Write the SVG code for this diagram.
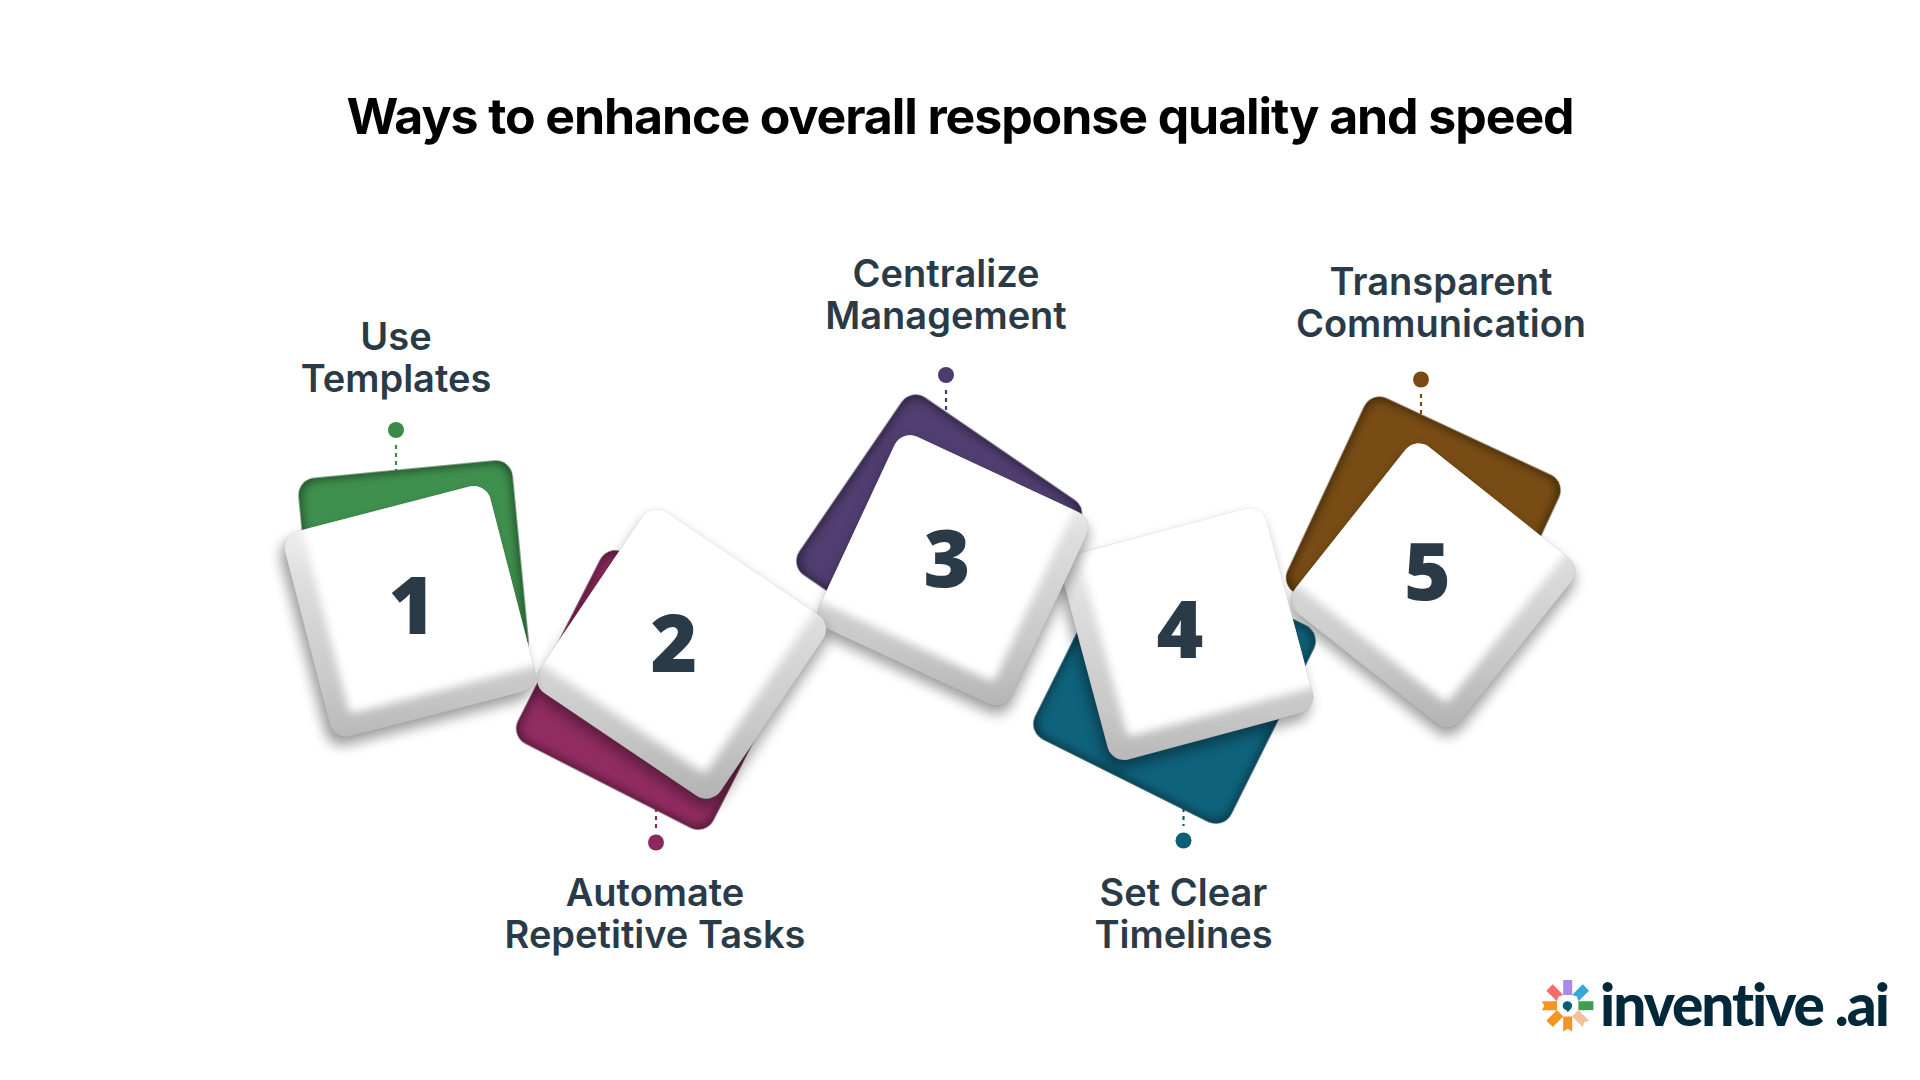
<svg xmlns="http://www.w3.org/2000/svg" width="1920" height="1080" viewBox="0 0 1920 1080">
<style>
.title{font-family:"Inter","Liberation Sans",sans-serif;font-weight:700;font-size:50px;letter-spacing:-1.08px;fill:#000;text-anchor:middle}
.label{font-family:"Inter","Liberation Sans",sans-serif;font-weight:600;font-size:38px;fill:#2a3b47;text-anchor:middle}
.num{font-family:"Open Sans","Liberation Sans",sans-serif;font-weight:800;font-size:80px;fill:#2a3b47;text-anchor:middle}
.logo{font-family:"Lato","Liberation Sans",sans-serif;font-weight:900;font-size:58.500px;letter-spacing:-2px;font-variant-ligatures:none;fill:#02283a}
.dash{stroke-width:2.2;stroke-dasharray:4 4;fill:none}
.edge{fill:none;stroke:#000;stroke-opacity:.07;stroke-width:.8}
</style>
<defs>
<rect id="back" x="-107.500" y="-107.500" width="215" height="215" rx="17"/>
<rect id="backShort" x="-107.500" y="-107.500" width="215" height="200" rx="17"/>
<rect id="s" x="-106" y="-106" width="212" height="212" rx="17"/>
<rect id="faceL" x="-84" y="-150" width="234" height="234" rx="6" fill="#fff"/>
<rect id="faceR" x="-150" y="-150" width="234" height="234" rx="6" fill="#fff"/>
<linearGradient id="bevel" x1="0" y1="0" x2="0" y2="1">
<stop offset=".12" stop-color="#fff"/><stop offset=".4" stop-color="#dedede"/><stop offset=".72" stop-color="#c8c8c8"/><stop offset=".95" stop-color="#b0b0b0"/>
</linearGradient>
<filter id="inner" x="-10%" y="-10%" width="120%" height="120%" color-interpolation-filters="sRGB">
<feFlood flood-color="#000" flood-opacity=".42"/>
<feComposite in2="SourceAlpha" operator="out"/>
<feMorphology operator="dilate" radius="3"/>
<feGaussianBlur stdDeviation="4.500"/>
<feComposite in2="SourceAlpha" operator="in" result="s"/>
<feMerge><feMergeNode in="SourceGraphic"/><feMergeNode in="s"/></feMerge>
</filter>
<filter id="soft" x="-30%" y="-30%" width="160%" height="160%"><feGaussianBlur stdDeviation="6.500"/></filter>
<filter id="face" x="-20%" y="-20%" width="140%" height="140%"><feGaussianBlur stdDeviation="4.500"/></filter>
<clipPath id="c1"><use href="#s" transform="translate(410,611.500) rotate(-14.500)"/></clipPath>
<clipPath id="c2"><use href="#s" transform="translate(681.500,654) rotate(34) scale(1.03)"/></clipPath>
<clipPath id="c3"><use href="#s" transform="translate(953,570.500) rotate(25)"/></clipPath>
<clipPath id="c4"><use href="#s" transform="translate(1187,634) rotate(-15)"/></clipPath>
<clipPath id="c5"><use href="#s" transform="translate(1433,585.500) rotate(38.500)"/></clipPath>
</defs>
<rect width="1920" height="1080" fill="#fff"/>
<text class="title" x="960" y="133.500">Ways to enhance overall response quality and speed</text>

<g id="connectors">
<line class="dash" x1="396" y1="445" x2="396" y2="472" stroke="#3c8a4a"/>
<line class="dash" x1="656" y1="800" x2="656" y2="830" stroke="#8c2a5e"/>
<line class="dash" x1="946" y1="390" x2="946" y2="414" stroke="#4d3c6b"/>
<line class="dash" x1="1183.500" y1="800" x2="1183.500" y2="826" stroke="#0d5f78"/>
<line class="dash" x1="1421" y1="394" x2="1421" y2="420" stroke="#7a4a12"/>
</g>

<g id="node-5">
<circle cx="1421" cy="379.500" r="8" fill="#7a4a12"/>
<use href="#back" transform="translate(1423.300,534) rotate(25)" fill="#784c14" filter="url(#inner)"/>
<use href="#s" transform="translate(1433,593.500) rotate(38.500)" fill="#000" opacity=".38" filter="url(#soft)"/>
<g clip-path="url(#c5)"><rect x="1263" y="415.500" width="340" height="340" fill="url(#bevel)"/><use href="#faceR" transform="translate(1433,585.500) rotate(38.500)" filter="url(#face)"/></g>
<use href="#s" class="edge" transform="translate(1433,585.500) rotate(38.500)"/>
<text class="num" x="1427.500" y="599.500">5</text>
<text class="label" x="1441" y="295">Transparent</text>
<text class="label" x="1441" y="337">Communication</text>
</g>

<g id="node-4">
<circle cx="1183.500" cy="840.500" r="8" fill="#0d5f78"/>
<use href="#back" transform="translate(1174.500,682.500) rotate(26.500) scale(1.02)" fill="#0f627c" filter="url(#inner)"/>
<use href="#s" transform="translate(1184,642) rotate(-15)" fill="#000" opacity=".38" filter="url(#soft)"/>
<g clip-path="url(#c4)"><rect x="1017" y="464" width="340" height="340" fill="url(#bevel)"/><use href="#faceL" transform="translate(1187,634) rotate(-15)" filter="url(#face)"/></g>
<use href="#s" class="edge" transform="translate(1187,634) rotate(-15)"/>
<text class="num" x="1180" y="657.500">4</text>
<text class="label" x="1183.500" y="905.500">Set Clear</text>
<text class="label" x="1183.500" y="947.500">Timelines</text>
</g>

<g id="node-3">
<circle cx="946" cy="375" r="8" fill="#4d3c6b"/>
<use href="#back" transform="translate(939.200,537.500) rotate(34.400)" fill="#503e70" filter="url(#inner)"/>
<use href="#s" transform="translate(953,578.500) rotate(25)" fill="#000" opacity=".38" filter="url(#soft)"/>
<g clip-path="url(#c3)"><rect x="783" y="400.500" width="340" height="340" fill="url(#bevel)"/><use href="#faceR" transform="translate(953,570.500) rotate(25)" filter="url(#face)"/></g>
<use href="#s" class="edge" transform="translate(953,570.500) rotate(25)"/>
<text class="num" x="947" y="586.500">3</text>
<text class="label" x="946" y="286.500">Centralize</text>
<text class="label" x="946" y="328.500">Management</text>
</g>

<g id="node-2">
<circle cx="656" cy="842.500" r="8" fill="#8c2a5e"/>
<use href="#back" transform="translate(656.800,690) rotate(27) scale(1.02,1)" fill="#902c60" filter="url(#inner)"/>
<use href="#s" transform="translate(681.500,662) rotate(34) scale(1.03)" fill="#000" opacity=".38" filter="url(#soft)"/>
<g clip-path="url(#c2)"><rect x="511.500" y="484" width="340" height="340" fill="url(#bevel)"/><use href="#faceR" transform="translate(681.500,654) rotate(34) scale(1.03)" filter="url(#face)"/></g>
<use href="#s" class="edge" transform="translate(681.500,654) rotate(34) scale(1.03)"/>
<text class="num" x="674" y="671.500">2</text>
<text class="label" x="655" y="905.500">Automate</text>
<text class="label" x="655" y="947.500">Repetitive Tasks</text>
</g>

<g id="node-1">
<circle cx="396" cy="430" r="8" fill="#3c8a4a"/>
<use href="#backShort" transform="translate(414.300,576.300) rotate(-5.500)" fill="#3f904e" filter="url(#inner)"/>
<use href="#s" transform="translate(406,620) rotate(-14.500)" fill="#000" opacity=".38" filter="url(#soft)"/>
<g clip-path="url(#c1)"><rect x="240" y="441.500" width="340" height="340" fill="url(#bevel)"/><use href="#faceL" transform="translate(410,611.500) rotate(-14.500)" filter="url(#face)"/></g>
<use href="#s" class="edge" transform="translate(410,611.500) rotate(-14.500)"/>
<text class="num" x="412" y="634">1</text>
<text class="label" x="396" y="349.500">Use</text>
<text class="label" x="396" y="392">Templates</text>
</g>

<g id="logo">
<g transform="translate(1567.700,1005.700)">
<polygon points="-4.500,-25.700 4.500,-25.700 4.500,-10.700 -4.500,-10.700" fill="#a78be6"/>
<polygon points="-4.500,-25.700 4.500,-25.700 4.500,-10.700 0,-13 -4.500,-10.700" fill="#35a7e0" transform="rotate(45)"/>
<polygon points="-4.500,-25.700 4.500,-25.700 4.500,-10.700 -4.500,-10.700" fill="#3f9e54" transform="rotate(90)"/>
<polygon points="-4.500,-25.700 0,-23.500 4.500,-25.700 4.500,-10.700 -4.500,-10.700" fill="#f4c09a" transform="rotate(135)"/>
<polygon points="-4.500,-25.700 0,-23 4.500,-25.700 4.500,-10.700 -4.500,-10.700" fill="#f7931e" transform="rotate(180)"/>
<polygon points="-4.500,-25.700 4.500,-25.700 4.500,-10.700 -4.500,-10.700" fill="#f7931e" transform="rotate(225)"/>
<polygon points="-4.500,-25.700 0,-23.500 4.500,-25.700 4.500,-10.700 -4.500,-10.700" fill="#f7931e" transform="rotate(270)"/>
<polygon points="-4.500,-25.700 4.500,-25.700 4.500,-10.700 0,-13 -4.500,-10.700" fill="#f56b70" transform="rotate(315)"/>
<path d="M0,-4.500a4.500,4.500 0 0 1 3.500,7.300L0,6.500a4.500,4.500 0 0 1 -1,-2a4.500,4.500 0 0 1 1,-9z" fill="#0b5a78"/>
</g>
<text class="logo" x="1600" y="1026">inventive .ai</text>
</g>
</svg>
